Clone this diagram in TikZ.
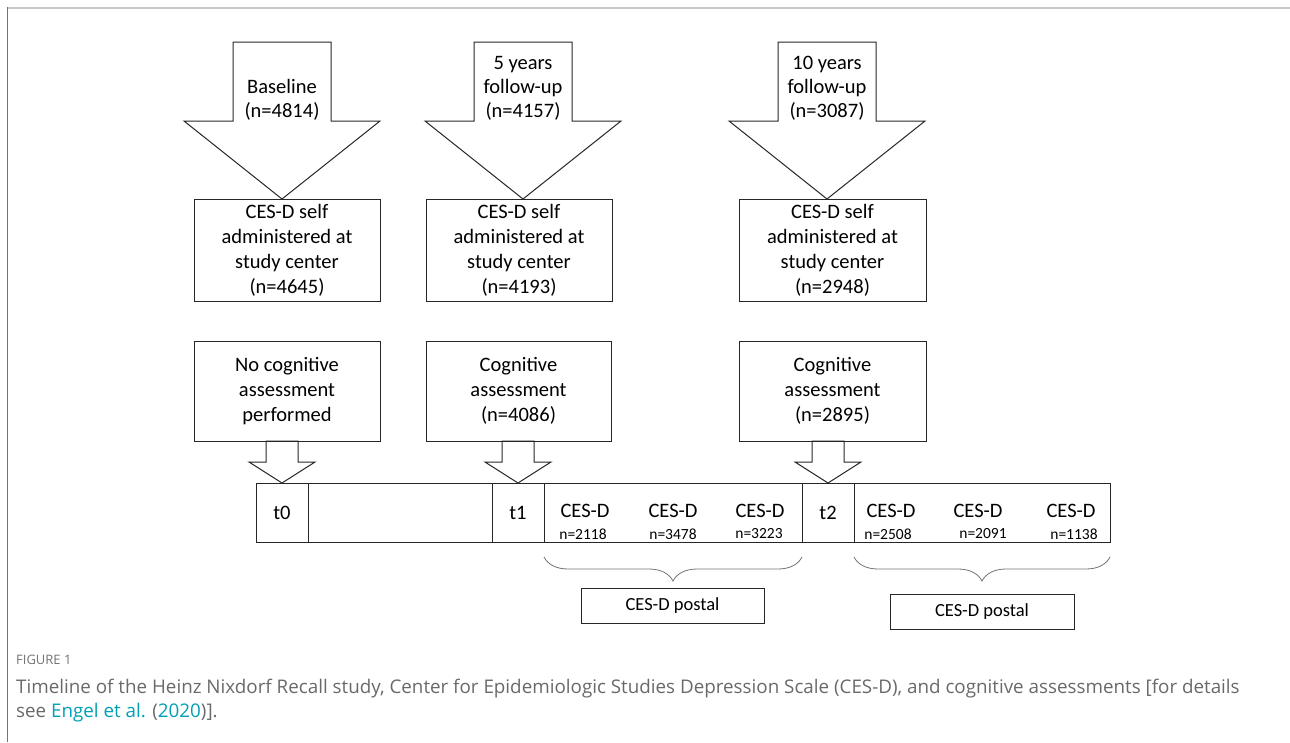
\documentclass[tikz,border=0pt]{standalone}
\usepackage{fontspec}
\setmainfont{Carlito}
\newfontfamily\capfont{Open Sans}
\usetikzlibrary{positioning,calc,decorations.pathreplacing}
\definecolor{capgray}{RGB}{105,105,105}
\definecolor{linkteal}{RGB}{0,160,180}

\begin{document}
\begin{tikzpicture}[x=1pt, y=-1pt,
    box/.style={draw=black!85, line width=1pt, align=center, inner sep=0pt, outer sep=0pt,
        font=\fontsize{20.5}{25}\selectfont},
    blockarrow/.style={draw=black!85, line width=1pt, line join=miter},
    arrowlbl/.style={align=center, inner sep=0pt, font=\fontsize{20.5}{24}\selectfont},
    cell/.style={draw=black!85, line width=1pt, minimum height=59pt, inner sep=0pt, outer sep=0pt,
        font=\fontsize{20.5}{25}\selectfont},
    ceslbl/.style={inner sep=0pt, font=\fontsize{20.5}{25}\selectfont},
    nlbl/.style={inner sep=0pt, font=\fontsize{15.5}{18}\selectfont},
    brace/.style={draw=black!55, line width=0.8pt, decorate,
        decoration={brace, mirror, amplitude=24pt}},
    caption/.style={anchor=base west, inner sep=0pt, text=capgray}
]
    \useasboundingbox (0,0) rectangle (1290,742);

    % Page frame
    \draw[black!22, line width=2pt] (8,8) -- (1290,8);
    \draw[black!55, line width=1.2pt] (7.5,7) -- (7.5,742);

    % CES-D at study center
    \node[box, minimum width=186pt, minimum height=102pt] (s1) at (287,250)
        {CES-D self\\administered at\\study center\\(n=4645)};
    \node[box, minimum width=186pt, minimum height=102pt] (s2) at (519,250)
        {CES-D self\\administered at\\study center\\(n=4193)};
    \node[box, minimum width=187pt, minimum height=102pt] (s3) at (832.5,250)
        {CES-D self\\administered at\\study center\\(n=2948)};

    % Examination waves (block arrows)
    \foreach \s/\x in {s1/282, s2/523, s3/827} {
        \draw[blockarrow] ({\x-49},42) -- ({\x+49},42) -- ({\x+49},121) -- ({\x+98},121)
            -- (\x,0 |- \s.north) -- ({\x-98},121) -- ({\x-49},121) -- cycle;
    }
    \node[arrowlbl] (w0) at (282,100) {Baseline\\(n=4814)};
    \node[arrowlbl] (w1) at (523,88) {5 years\\follow-up\\(n=4157)};
    \node[arrowlbl] (w2) at (827,88) {10 years\\follow-up\\(n=3087)};

    % Cognitive assessment
    \node[box, minimum width=186pt, minimum height=100pt] (cA) at (287,391)
        {No cognitive\\assessment\\performed};
    \node[box, minimum width=185pt, minimum height=100pt] (cB) at (518.5,391)
        {Cognitive\\assessment\\(n=4086)};
    \node[box, minimum width=187pt, minimum height=100pt] (cC) at (832.5,391)
        {Cognitive\\assessment\\(n=2895)};

    % Timeline
    \node[cell, minimum width=52pt] (t0) at (282,512.5) {t0};
    \node[cell, minimum width=184pt, right=0pt of t0] (gap) {};
    \node[cell, minimum width=52pt, right=0pt of gap] (t1) {t1};
    \node[cell, minimum width=258pt, right=0pt of t1] (cesA) {};
    \node[cell, minimum width=52pt, right=0pt of cesA] (t2) {t2};
    \node[cell, minimum width=256pt, right=0pt of t2] (cesB) {};

    % Postal CES-D
    \foreach \x/\nx/\n in {585/583/2118, 673/673/3478, 760/759/3223,
                           891/888/2508, 978/983/2091, 1071/1074/1138} {
        \node[ceslbl] (c\n) at (\x,511) {CES-D};
        \node[nlbl] (n\n) at (\nx,534) {n=\n};
    }

    % Small arrows into the timeline
    \foreach \a/\b in {cA/t0, cB/t1, cC/t2} {
        \draw[blockarrow] ($(\a.south -| \b.north)+(-16,0)$) -- ++(0,21) -- ++(-17,0)
            -- (\b.north) -- ++(33,-21) -- ++(-17,0) -- ++(0,-21) -- cycle;
    }

    % Braces and postal boxes
    \draw[brace] ($(cesA.south west)+(0,15)$) -- ($(cesA.south east)+(0,15)$);
    \draw[brace] ($(cesB.south west)+(0,15)$) -- ($(cesB.south east)+(0,15)$);
    \node[box, minimum width=183pt, minimum height=35pt, font=\fontsize{18.5}{22}\selectfont]
        (pA) at (672.5,605.5) {CES-D postal};
    \node[box, minimum width=184pt, minimum height=35pt, font=\fontsize{18.5}{22}\selectfont]
        (pB) at (982,611.5) {CES-D postal};

    % Caption
    \node[caption, text=black!55, font=\capfont\fontsize{13}{15}\selectfont] (fig) at (16,664) {FIGURE 1};
    \node[caption, font=\capfont\fontsize{18.8}{24}\selectfont] (cap1) at (16,693)
        {Timeline of the Heinz Nixdorf Recall study, Center for Epidemiologic Studies Depression Scale (CES-D), and cognitive assessments [for details};
    \node[caption, font=\capfont\fontsize{18.8}{24}\selectfont] (cap2) at (16,717)
        {see \textcolor{linkteal}{Engel et al.} (\textcolor{linkteal}{2020})].};
\end{tikzpicture}
\end{document}
